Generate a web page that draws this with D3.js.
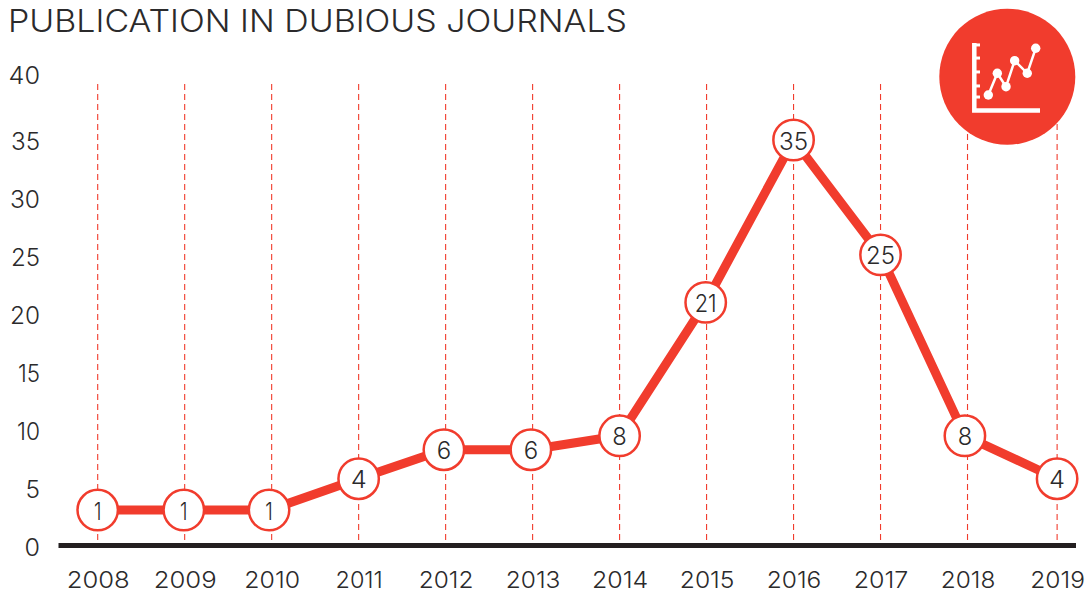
<!DOCTYPE html>
<html><head><meta charset="utf-8">
<script src="https://cdn.jsdelivr.net/npm/d3@7/dist/d3.min.js"></script>
<style>html,body{margin:0;padding:0;background:#fff}svg{display:block}text{font-family:Inter,"Open Sans",sans-serif;font-weight:300;fill:#2b2a2b}</style>
</head><body><script>
const titleText = "PUBLICATION IN DUBIOUS JOURNALS";
const years = [2008,2009,2010,2011,2012,2013,2014,2015,2016,2017,2018,2019];
const gridYears = [2008,2009,2010,2011,2012,2013,2014,2015,2016,2017,2018,2019.03];
const markerYears = [2008,2008.99,2009.97,2011,2011.98,2012.98,2014,2014.99,2016,2017,2017.97,2019.03];
const plotted = [3.1,3.1,3.1,5.8,8.3,8.3,9.5,21,35,25.1,9.5,5.8];
const labels = [1,1,1,4,6,6,8,21,35,25,8,4];
const tickValues = [0,5,10,15,20,25,30,35,40.7];
const tickLabels = [0,5,10,15,20,25,30,35,40];
const iconSeries = [[0,0],[0.95,2.14],[1.87,0.82],[2.78,3.38],[4.11,2.14],[5,4.6]];
const iconTicks = [4.93,3.64,2.27,0.89,-0.2];

const W=1087,H=589;
const x=d3.scaleLinear().domain([2008,2019]).range([97.7,1054.5]);
const y=d3.scaleLinear().domain([0,35]).range([546,140]);
const red="#f13c2d";
// The reference face has a narrow "1" and a wide "0" and "4"; fit real text to those widths.
const textWidth=(s,k=1)=>k*[...String(s)].reduce((a,c)=>a+(c==="1"?7.5:c==="4"?16:c==="0"?15.5:14.5),0);
const svg=d3.select("body").append("svg").attr("width",W).attr("height",H);

svg.append("text").attr("x",8).attr("y",32).attr("font-size",30.5).attr("textLength",619).attr("lengthAdjust","spacingAndGlyphs").text(titleText);

svg.append("g").selectAll("line").data(gridYears).join("line")
 .attr("x1",d=>x(d)).attr("x2",d=>x(d)).attr("y1",84).attr("y2",545)
 .attr("stroke",red).attr("stroke-width",1.1).attr("stroke-dasharray","6 4");

const yAxis=svg.append("g").attr("transform","translate(46,0)")
 .call(d3.axisLeft(y).tickValues(tickValues).tickSize(0).tickPadding(6).tickFormat((d,i)=>tickLabels[i]));
yAxis.select(".domain").remove();
yAxis.selectAll("text").attr("font-size",24).attr("text-anchor","end").attr("x",-6).attr("dy","0.4em")
 .attr("textLength",(d,i)=>textWidth(tickLabels[i])).attr("lengthAdjust","spacingAndGlyphs");

svg.append("line").attr("x1",58.5).attr("x2",1076).attr("y1",y(0)-0.5).attr("y2",y(0)-0.5).attr("stroke","#231f20").attr("stroke-width",5);

const xAxis=svg.append("g").attr("transform","translate(0,588)")
 .call(d3.axisBottom(x).tickValues(gridYears).tickSize(0).tickPadding(0).tickFormat((d,i)=>years[i]));
xAxis.select(".domain").remove();
xAxis.selectAll("text").attr("font-size",23).attr("y",0).attr("dy",0)
 .attr("textLength",(d,i)=>textWidth(years[i],1.05)).attr("lengthAdjust","spacingAndGlyphs");

const pts=markerYears.map((m,i)=>({m,v:plotted[i],l:labels[i]}));
svg.append("path").datum(pts).attr("fill","none").attr("stroke",red).attr("stroke-width",9)
 .attr("d",d3.line().x(d=>x(d.m)).y(d=>y(d.v)));
const g=svg.append("g").selectAll("g").data(pts).join("g").attr("transform",d=>`translate(${x(d.m)},${y(d.v)})`);
g.append("circle").attr("r",20.2).attr("fill","#fff").attr("stroke",red).attr("stroke-width",2.5);
g.append("text").attr("text-anchor","middle").attr("dy","0.4em").attr("font-size",24)
 .attr("textLength",d=>textWidth(d.l)).attr("lengthAdjust","spacingAndGlyphs").text(d=>d.l);

// icon
const icon=svg.append("g").attr("transform","translate(1007.3,76.7)");
icon.append("circle").attr("r",68).attr("fill",red);
const ix=d3.scaleLinear().domain([0,5]).range([-19,28.4]);
const iy=d3.scaleLinear().domain([0,4.6]).range([18.3,-28.4]);
icon.append("path").attr("d","M-33 -33.7 V33.8 H32.7").attr("fill","none").attr("stroke","#fff").attr("stroke-width",4.5);
icon.append("g").selectAll("line").data(iconTicks).join("line")
 .attr("x1",-33).attr("x2",-27.3).attr("y1",d=>iy(d)).attr("y2",d=>iy(d)).attr("stroke","#fff").attr("stroke-width",3);
icon.append("path").datum(iconSeries).attr("fill","none").attr("stroke","#fff").attr("stroke-width",2.5)
 .attr("d",d3.line().x(d=>ix(d[0])).y(d=>iy(d[1])));
icon.append("g").selectAll("circle").data(iconSeries).join("circle")
 .attr("cx",d=>ix(d[0])).attr("cy",d=>iy(d[1])).attr("r",4.7).attr("fill","#fff");
</script></body></html>
